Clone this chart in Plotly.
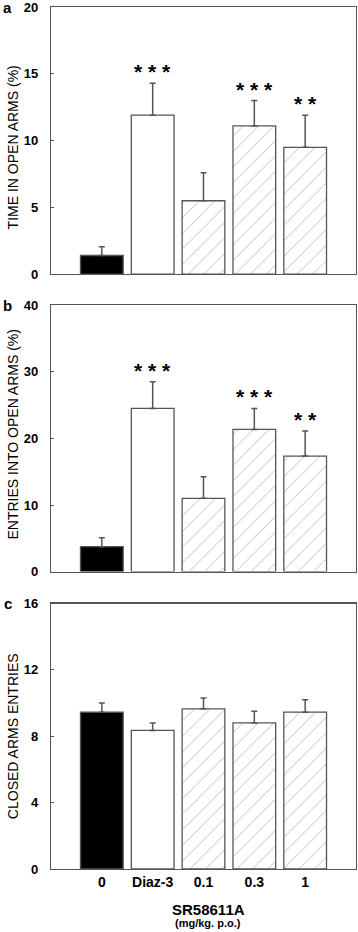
import plotly.graph_objects as go

categories = ["0", "Diaz-3", "0.1", "0.3", "1"]

time_open_mean = [1.4, 11.9, 5.5, 11.1, 9.5]
time_open_top = [2.05, 14.3, 7.6, 13.0, 11.9]
time_open_sig = ["", "* * *", "", "* * *", "* *"]

entries_open_mean = [3.75, 24.5, 11.0, 21.35, 17.35]
entries_open_top = [5.1, 28.5, 14.25, 24.5, 21.1]
entries_open_sig = ["", "* * *", "", "* * *", "* *"]

closed_mean = [9.45, 8.35, 9.65, 8.8, 9.45]
closed_top = [10.0, 8.8, 10.3, 9.5, 10.2]
closed_sig = ["", "", "", "", ""]

bar_colors = ["black", "white", "white", "white", "white"]
bar_patterns = ["", "", "/", "/", "/"]

panels = [
    dict(mean=time_open_mean, top=time_open_top, sig=time_open_sig,
         yrange=[0, 20], dtick=5, title="TIME IN OPEN ARMS (%)", letter="a",
         domain=[0.690, 1.0], title_y=0.837),
    dict(mean=entries_open_mean, top=entries_open_top, sig=entries_open_sig,
         yrange=[0, 40], dtick=10, title="ENTRIES INTO OPEN ARMS (%)", letter="b",
         domain=[0.345, 0.654], title_y=0.505),
    dict(mean=closed_mean, top=closed_top, sig=closed_sig,
         yrange=[0, 16], dtick=4, title="CLOSED ARMS ENTRIES", letter="c",
         domain=[0.0, 0.308], title_y=0.154),
]

FONT = "Liberation Sans, Arial, sans-serif"
LINE = "#555555"

fig = go.Figure()
annotations = []
layout_axes = {}

for i, p in enumerate(panels):
    n = "" if i == 0 else str(i + 1)
    xa, ya = "x" + n, "y" + n
    err_plus = [t - m for t, m in zip(p["top"], p["mean"])]
    fig.add_trace(go.Bar(
        x=categories, y=p["mean"], xaxis=xa, yaxis=ya, width=0.84,
        marker=dict(color=bar_colors, line=dict(color=LINE, width=1.3),
                    pattern=dict(shape=bar_patterns, fgcolor="#383838", bgcolor="white",
                                 size=11, solidity=0.06)),
        error_y=dict(type="data", symmetric=False, array=err_plus,
                     arrayminus=[0] * len(err_plus), color=LINE, thickness=1.5, width=3),
        showlegend=False, hoverinfo="skip",
    ))
    layout_axes["xaxis" + n] = dict(
        type="category", range=[-1, 5], anchor=ya, domain=[0, 1], automargin=False,
        showline=True, mirror=True, linecolor=LINE, linewidth=1.2,
        ticks="", showticklabels=(i == 2), showgrid=False, zeroline=False,
        tickfont=dict(family=FONT, size=14, color="black", weight="bold"),
    )
    layout_axes["yaxis" + n] = dict(
        range=p["yrange"], dtick=p["dtick"], anchor=xa, domain=p["domain"], automargin=False,
        showline=True, mirror=True, linecolor=LINE, linewidth=1.2,
        ticks="inside", ticklen=3, tickcolor=LINE, showgrid=False, zeroline=False,
        ticklabelstandoff=9, ticklabeloverflow="allow",
        tickfont=dict(family=FONT, size=13, color="black", weight="bold"),
    )
    for idx, (t, s) in enumerate(zip(p["top"], p["sig"])):
        if s:
            annotations.append(dict(
                x=idx, y=t, xref=xa, yref=ya, text=s, showarrow=False,
                xanchor="center", yanchor="bottom", yshift=-2,
                font=dict(family=FONT, size=21, color="black", weight="bold"),
            ))
    annotations.append(dict(
        x=-0.125, y=p["title_y"], xref="paper", yref="paper", text=p["title"],
        textangle=-90, showarrow=False, xanchor="center", yanchor="middle",
        font=dict(family=FONT, size=14, color="black"),
    ))
    annotations.append(dict(
        x=-0.141, y=p["domain"][1], xref="paper", yref="paper", text=p["letter"],
        showarrow=False, xanchor="center", yanchor="middle",
        font=dict(family=FONT, size=15, color="black", weight="bold"),
    ))

annotations.append(dict(
    x=0.515, y=-0.047, xref="paper", yref="paper", text="SR58611A",
    showarrow=False, xanchor="center", yanchor="middle",
    font=dict(family=FONT, size=15, color="black", weight="bold"),
))
annotations.append(dict(
    x=0.515, y=-0.063, xref="paper", yref="paper", text="(mg/kg. p.o.)",
    showarrow=False, xanchor="center", yanchor="middle",
    font=dict(family=FONT, size=11, color="black", weight="bold"),
))

fig.update_layout(
    width=358, height=932,
    margin=dict(l=51, r=2, t=7, b=63, autoexpand=False),
    paper_bgcolor="white", plot_bgcolor="white",
    annotations=annotations,
    **layout_axes,
)

fig.write_html(
    "out.html",
    config={"displayModeBar": False, "staticPlot": True},
    post_script="document.body.style.margin='0';document.body.style.padding='0';"
                "document.documentElement.style.overflow='hidden';",
)
